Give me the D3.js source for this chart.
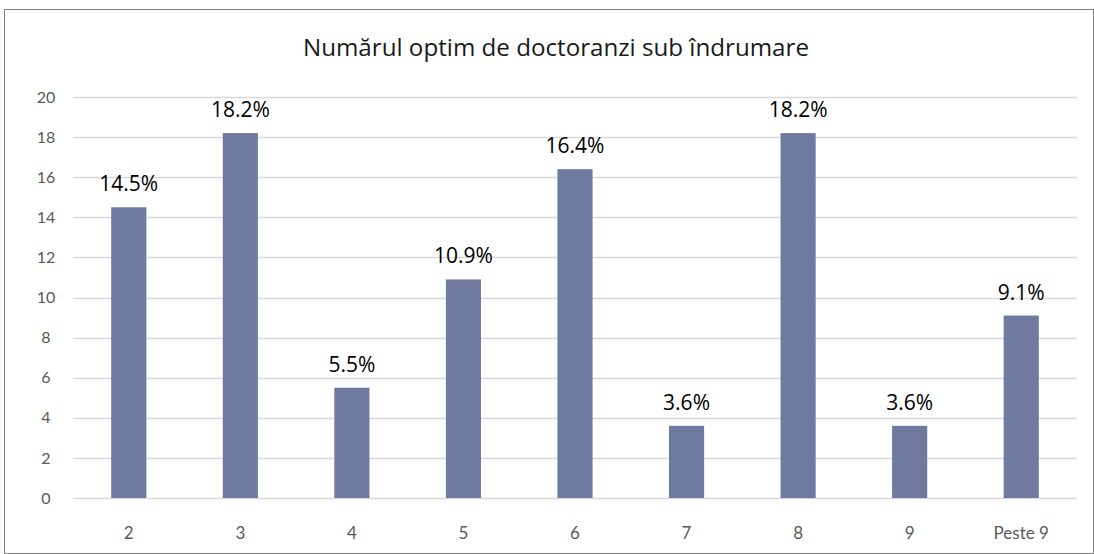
<!DOCTYPE html>
<html>
<head>
<meta charset="utf-8">
<script src="https://cdn.jsdelivr.net/npm/d3@7"></script>
<style>
  html, body { margin: 0; padding: 0; background: #fff; }
  svg { display: block; }
</style>
</head>
<body>
<script>
// Chart data
const categories = ["2", "3", "4", "5", "6", "7", "8", "9", "Peste 9"];
const percentages = [14.5, 18.2, 5.5, 10.9, 16.4, 3.6, 18.2, 3.6, 9.1];
const yTicks = [0, 2, 4, 6, 8, 10, 12, 14, 16, 18, 20];
const titleText = "Numărul optim de doctoranzi sub îndrumare";

const W = 1094, H = 554;
const plot = { left: 73, right: 1077, top: 97, bottom: 498 };

const svg = d3.select("body").append("svg")
  .attr("width", W).attr("height", H);

// Outer frame
svg.append("rect")
  .attr("x", 4.5).attr("y", 9.5)
  .attr("width", W - 5).attr("height", H - 10)
  .attr("fill", "#fff").attr("stroke", "#7f7f7f").attr("stroke-width", 1);

// Title
svg.append("text")
  .attr("x", 556).attr("y", 56)
  .attr("text-anchor", "middle")
  .attr("font-family", "'Open Sans', sans-serif")
  .attr("font-weight", 400)
  .attr("font-size", 23)
  .attr("textLength", 506)
  .attr("lengthAdjust", "spacingAndGlyphs")
  .attr("fill", "#1a1a1a")
  .text(titleText);

const x = d3.scaleBand()
  .domain(categories)
  .range([plot.left, plot.right])
  .paddingInner(0.685)
  .paddingOuter(0.3425);

const y = d3.scaleLinear()
  .domain([0, 20])
  .range([plot.bottom, plot.top]);

// Horizontal gridlines
svg.append("g")
  .selectAll("line")
  .data(yTicks)
  .join("line")
  .attr("x1", plot.left).attr("x2", plot.right)
  .attr("y1", d => Math.round(y(d)) + 0.5)
  .attr("y2", d => Math.round(y(d)) + 0.5)
  .attr("stroke", "#d9d9d9").attr("stroke-width", 1.3);

// Y axis labels
const yAxis = d3.axisLeft(y).tickValues(yTicks).tickSize(0).tickPadding(0);
const gy = svg.append("g")
  .attr("transform", `translate(${plot.left - 20},0)`)
  .call(yAxis);
gy.select(".domain").remove();
gy.selectAll("text")
  .attr("text-anchor", "middle")
  .attr("dx", -7)
  .attr("font-family", "Lato, sans-serif")
  .attr("font-size", 16)
  .attr("fill", "#595959");

// X axis labels
const xAxis = d3.axisBottom(x).tickSize(0).tickPadding(0);
const gx = svg.append("g")
  .attr("transform", `translate(0,${plot.bottom + 29})`)
  .call(xAxis);
gx.select(".domain").remove();
gx.selectAll("text")
  .attr("font-family", "Lato, sans-serif")
  .attr("font-size", 17)
  .attr("fill", "#595959");

// Bars
svg.append("g")
  .selectAll("rect")
  .data(categories)
  .join("rect")
  .attr("x", d => x(d))
  .attr("width", x.bandwidth())
  .attr("y", (d, i) => y(percentages[i]))
  .attr("height", (d, i) => y(0) - y(percentages[i]))
  .attr("fill", "#6f7aa1");

// Value labels
svg.append("g")
  .selectAll("text")
  .data(categories)
  .join("text")
  .attr("x", d => x(d) + x.bandwidth() / 2)
  .attr("y", (d, i) => y(percentages[i]) - 16)
  .attr("text-anchor", "middle")
  .attr("font-family", "'Open Sans', sans-serif")
  .attr("font-weight", 400)
  .attr("font-size", 21)
  .attr("fill", "#000")
  .text((d, i) => percentages[i].toFixed(1) + "%");
</script>
</body>
</html>
